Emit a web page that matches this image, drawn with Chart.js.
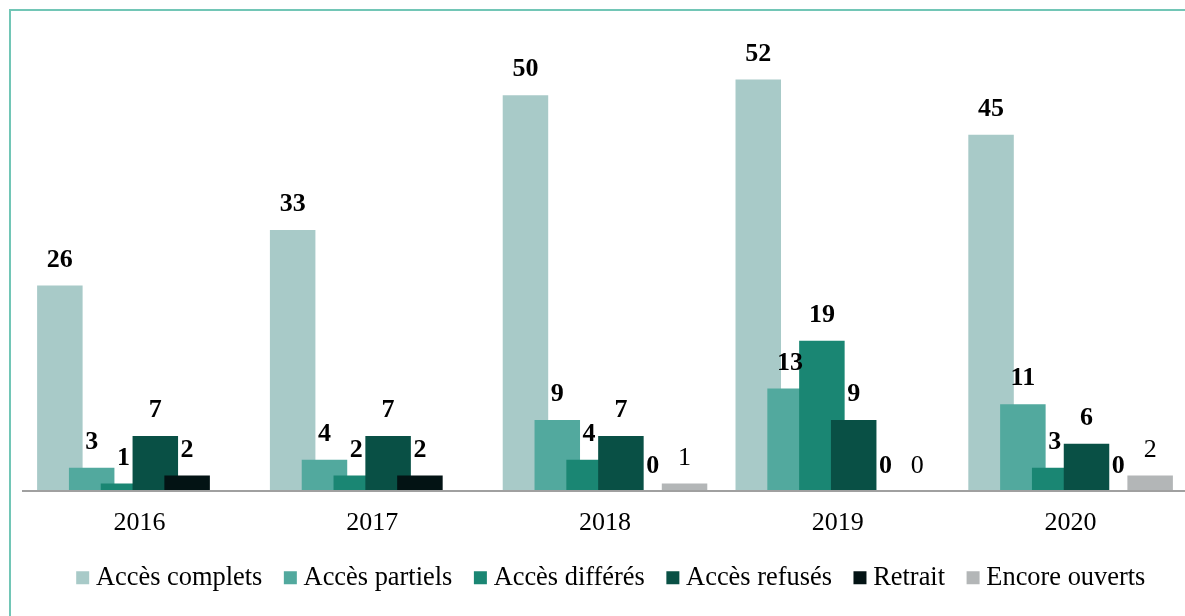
<!DOCTYPE html>
<html>
<head>
<meta charset="utf-8">
<script src="https://cdn.jsdelivr.net/npm/chart.js@4"></script>
<style>
  html, body { margin: 0; padding: 0; background: #fff; overflow: hidden; }
  #wrap { position: absolute; left: 0; top: 0; width: 1187px; height: 616px; }
  #frame { position: absolute; left: 9px; top: 9px; width: 1300px; height: 700px;
           border-left: 2px solid #72c6b6; border-top: 2px solid #72c6b6; pointer-events: none; }
</style>
</head>
<body>
<div id="frame"></div>
<div id="wrap"><canvas id="c"></canvas></div>
<script>
const categories = ['2016', '2017', '2018', '2019', '2020'];
const seriesNames = ['Accès complets', 'Accès partiels', 'Accès différés', 'Accès refusés', 'Retrait', 'Encore ouverts'];
const accesComplets = [26, 33, 50, 52, 45];
const accesPartiels = [3, 4, 9, 13, 11];
const accesDifferes = [1, 2, 4, 19, 3];
const accesRefuses = [7, 7, 7, 9, 6];
const retrait = [2, 2, 0, 0, 0];
const encoreOuverts = [null, null, 1, 0, 2];
const seriesColors = ['#a8cac8', '#52a99e', '#1a8673', '#095045', '#031314', '#b3b6b7'];
const labelBold = [true, true, true, true, true, false];

const seriesData = [accesComplets, accesPartiels, accesDifferes, accesRefuses, retrait, encoreOuverts];
const FONT = "'Liberation Serif', 'Times New Roman', serif";

const datasets = seriesData.map((d, i) => ({
  label: seriesNames[i],
  data: d,
  backgroundColor: seriesColors[i],
  borderWidth: 0,
  categoryPercentage: 0.82,
  barPercentage: 1.43
}));

// draw later series on top of earlier ones (as in the reference)
const drawOrder = {
  id: 'drawOrder',
  beforeDatasetsDraw(chart) {
    const metas = chart.getSortedVisibleDatasetMetas();
    metas.forEach(m => m.controller.draw());
    return false;
  }
};

const valueLabels = {
  id: 'valueLabels',
  afterDraw(chart) {
    const ctx = chart.ctx;
    ctx.save();
    ctx.textAlign = 'center';
    ctx.textBaseline = 'middle';
    ctx.fillStyle = '#000';
    chart.data.datasets.forEach((ds, i) => {
      const meta = chart.getDatasetMeta(i);
      ctx.font = (labelBold[i] ? 'bold ' : '') + '26px ' + FONT;
      meta.data.forEach((el, j) => {
        const v = ds.data[j];
        if (v === null || v === undefined) return;
        ctx.fillText(String(v), el.x, el.y - 25.5);
      });
    });
    ctx.restore();
  }
};

const legendShift = {
  id: 'legendShift',
  afterLayout(chart) {
    if (chart.legend) { chart.legend.left += 9; chart.legend.right += 9; }
  }
};

new Chart(document.getElementById('c'), {
  type: 'bar',
  data: { labels: categories, datasets },
  options: {
    responsive: true,
    maintainAspectRatio: false,
    animation: false,
    layout: { padding: { top: 16, left: 23, right: 0, bottom: 15 } },
    scales: {
      x: {
        grid: { display: false, drawTicks: false },
        border: { display: true, color: '#a0a0a0', width: 2, z: 1 },
        ticks: { color: '#000', font: { family: FONT, size: 26 }, padding: 16 },
        afterFit(scale) { scale.height -= 18; }
      },
      y: {
        display: false,
        min: 0,
        max: 60
      }
    },
    plugins: {
      tooltip: { enabled: false },
      legend: {
        position: 'bottom',
        labels: {
          usePointStyle: true,
          pointStyle: 'rect',
          boxWidth: 0.1,
          boxHeight: 13,
          padding: 28,
          color: '#000',
          font: { family: FONT, size: 26.4 }
        }
      }
    }
  },
  plugins: [drawOrder, valueLabels, legendShift]
});
</script>
</body>
</html>
